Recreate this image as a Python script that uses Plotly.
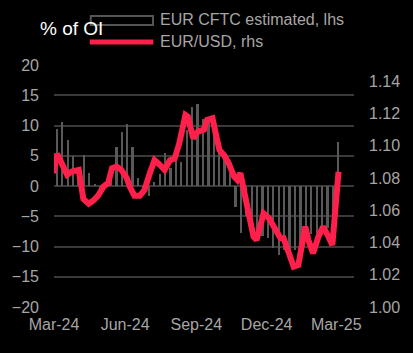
import pandas as pd
import plotly.graph_objects as go

# CFTC estimated EUR positioning (% of open interest), weekly
cftc_dates = pd.date_range("2024-03-05", periods=53, freq="7D")
cftc_values = [
    9.5, 10.5, 7.6, 4.9, 2.5, 5.2, 2.1, 0.4, -0.8, 0.6,
    1.5, 6.5, 8.9, 10.3, 6.4, 1.4, -0.5, -1.7, 0.7, 2.0,
    5.5, 3.0, 4.3, 4.0, 9.2, 13.0, 13.6, 11.1, 10.5, 8.7,
    6.2, 4.8, 2.1, -3.5, -7.7, -5.0, -7.0, -8.0, -8.3, -8.6,
    -10.3, -11.4, -10.5, -11.0, -10.5, -10.0, -7.2, -8.0, -8.0, -6.7,
    -7.0, -7.5, 7.3,
]

# EUR/USD spot
fx_dates = [
    "2024-02-29", "2024-03-05", "2024-03-11", "2024-03-18", "2024-03-24",
    "2024-04-02", "2024-04-08", "2024-04-15", "2024-04-21", "2024-04-27",
    "2024-05-04", "2024-05-10", "2024-05-15", "2024-05-21", "2024-05-27",
    "2024-06-03", "2024-06-07", "2024-06-13", "2024-06-20", "2024-06-26",
    "2024-07-03", "2024-07-09", "2024-07-16", "2024-07-22", "2024-07-29",
    "2024-08-04", "2024-08-10", "2024-08-18", "2024-08-21", "2024-08-28",
    "2024-09-03", "2024-09-11", "2024-09-15", "2024-09-22", "2024-09-26",
    "2024-10-01", "2024-10-07", "2024-10-13", "2024-10-20", "2024-10-24",
    "2024-10-28", "2024-11-02", "2024-11-10", "2024-11-14", "2024-11-18",
    "2024-11-23", "2024-11-27", "2024-12-04", "2024-12-10", "2024-12-12",
    "2024-12-19", "2024-12-23", "2024-12-29", "2025-01-05", "2025-01-11",
    "2025-01-16", "2025-01-20", "2025-01-24", "2025-01-30", "2025-02-06",
    "2025-02-12", "2025-02-19", "2025-02-24", "2025-03-04",
]
fx_values = [
    1.083, 1.095, 1.089, 1.082, 1.084,
    1.085, 1.067, 1.064, 1.066, 1.069,
    1.0746, 1.0767, 1.086, 1.087, 1.085,
    1.080, 1.0746, 1.069, 1.069, 1.0725,
    1.083, 1.091, 1.088, 1.085, 1.091,
    1.092, 1.1015, 1.119, 1.118, 1.1046,
    1.1087, 1.110, 1.116, 1.117, 1.108,
    1.0974, 1.094, 1.089, 1.0808, 1.0788,
    1.083, 1.0725, 1.052, 1.0436, 1.0416,
    1.052, 1.058, 1.055, 1.0498, 1.0478,
    1.0426, 1.0426, 1.0333, 1.025, 1.026,
    1.0374, 1.0498, 1.0416, 1.0333, 1.0436,
    1.0498, 1.0436, 1.0384, 1.0839,
]

title_text = "% of OI"
legend_labels = ["EUR CFTC estimated, lhs", "EUR/USD, rhs"]

GRID = "#3a3a3a"
TXT = "#a6a6a6"
RED = "#ff1f4b"
BAR = "#595959"
FONT = "Liberation Sans, Arial, sans-serif"

fig = go.Figure()
fig.add_trace(go.Bar(
    x=cftc_dates, y=cftc_values, name=legend_labels[0],
    marker=dict(color=BAR, line=dict(width=0)),
    width=2.3 * 86400000, showlegend=False, yaxis="y",
))
fig.add_trace(go.Scatter(
    x=fx_dates, y=fx_values, name=legend_labels[1], mode="lines",
    line=dict(color=RED, width=6), showlegend=False, yaxis="y2",
))

fig.update_layout(
    width=413, height=353,
    margin=dict(l=52, r=59, t=65, b=46),
    paper_bgcolor="black", plot_bgcolor="black",
    font=dict(family=FONT, size=16, color=TXT),
    bargap=0,
    xaxis=dict(
        type="date", range=["2024-03-01", "2025-03-24"],
        tick0="2024-03-01", dtick="M3", tickformat="%b-%y",
        showgrid=False, zeroline=False, showline=False,
        ticks="", ticklabelstandoff=6,
        tickfont=dict(size=16, color=TXT),
    ),
    yaxis=dict(
        range=[-20, 20], dtick=5, showgrid=True, gridcolor=GRID, gridwidth=2,
        zeroline=True, zerolinecolor=GRID, zerolinewidth=2,
        showline=False, ticks="", ticklabelstandoff=14,
        tickfont=dict(size=16, color=TXT),
    ),
    yaxis2=dict(
        overlaying="y", side="right", range=[1.00, 1.15], dtick=0.02,
        tick0=1.00, tickformat=".2f", showgrid=False, zeroline=False,
        showline=False, ticks="", ticklabelstandoff=14,
        tickfont=dict(size=16, color=TXT),
    ),
)

# manual legend & title
fig.add_shape(type="rect", xref="paper", yref="paper",
              x0=0.1225, x1=0.330, y0=1.1653, y1=1.2025,
              line=dict(color="#555555", width=2), fillcolor="black")
fig.add_shape(type="line", xref="paper", yref="paper",
              x0=0.1192, x1=0.3311, y0=1.095, y1=1.095,
              line=dict(color=RED, width=5))
fig.add_annotation(text=legend_labels[0], xref="paper", yref="paper",
                   x=0.345, y=1.186, xanchor="left", yanchor="middle",
                   showarrow=False, font=dict(size=16, color=TXT, family=FONT))
fig.add_annotation(text=legend_labels[1], xref="paper", yref="paper",
                   x=0.345, y=1.099, xanchor="left", yanchor="middle",
                   showarrow=False, font=dict(size=16, color=TXT, family=FONT))
fig.add_annotation(text=title_text, xref="paper", yref="paper",
                   x=-0.052, y=1.149, xanchor="left", yanchor="middle",
                   showarrow=False, font=dict(size=19, color="white", family=FONT))

fig.write_html("out.html")
